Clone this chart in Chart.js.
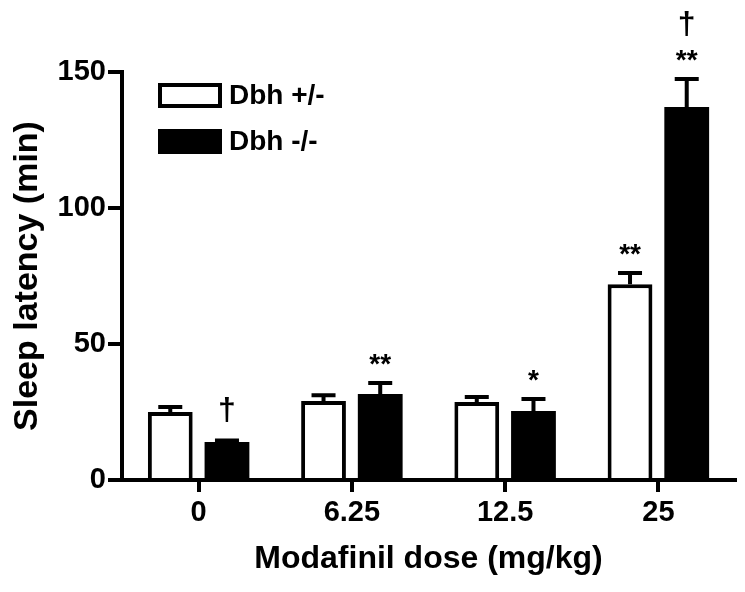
<!DOCTYPE html>
<html>
<head>
<meta charset="utf-8">
<script src="https://cdn.jsdelivr.net/npm/chart.js@4.4.0/dist/chart.umd.min.js"></script>
<style>
  html, body { margin: 0; padding: 0; background: #fff; }
  #wrap { width: 745px; height: 592px; }
</style>
</head>
<body>
<div id="wrap"><canvas id="myChart" width="745" height="592"></canvas></div>
<script>
// doses (x categories)
var doses = ["0", "6.25", "12.5", "25"];
// mean sleep latency (min)
var hetMeans = [25.0, 29.0, 28.7, 72.0];
var hetErr = [1.8, 2.2, 1.8, 4.1];
var koMeans = [14.0, 31.6, 25.4, 137.1];
var koErr = [0.5, 4.1, 4.4, 10.3];
// significance marks, bottom to top
var hetMarks = [[], [], [], ["**"]];
var koMarks = [["†"], ["**"], ["*"], ["**", "†"]];
var yTicks = [0, 50, 100, 150];

var FONT = "'Liberation Sans', Arial, sans-serif";

// error bars + significance marks
var errorBarPlugin = {
    id: "errorBars",
    afterDatasetsDraw: function (chart) {
        var ctx = chart.ctx;
        var y = chart.scales.y;
        var errs = [hetErr, koErr];
        var marks = [hetMarks, koMarks];
        ctx.save();
        chart.data.datasets.forEach(function (ds, di) {
            var meta = chart.getDatasetMeta(di);
            meta.data.forEach(function (bar, i) {
                var x = bar.x;
                var top = y.getPixelForValue(ds.data[i]);
                var cap = y.getPixelForValue(ds.data[i] + errs[di][i]);
                ctx.strokeStyle = "#000";
                ctx.lineWidth = 4;
                ctx.beginPath();
                ctx.moveTo(x, top);
                ctx.lineTo(x, cap);
                ctx.moveTo(x - 12, cap);
                ctx.lineTo(x + 12, cap);
                ctx.stroke();

                // marks
                ctx.fillStyle = "#000";
                ctx.textAlign = "center";
                ctx.textBaseline = "alphabetic";
                var cur = cap - 2;
                var gap = 16;
                marks[di][i].forEach(function (m) {
                    var isStar = m.indexOf("*") >= 0;
                    ctx.font = "bold " + (isStar ? 28 : 32) + "px " + FONT;
                    var mt = ctx.measureText(m);
                    var base = cur - gap - mt.actualBoundingBoxDescent;
                    ctx.fillText(m, x, base);
                    cur = base - mt.actualBoundingBoxAscent;
                    gap = 13;
                });
            });
        });
        ctx.restore();
    }
};

// legend drawn inside the plot area
var legendPlugin = {
    id: "innerLegend",
    afterDraw: function (chart) {
        var ctx = chart.ctx;
        ctx.save();
        chart.data.datasets.forEach(function (ds, di) {
            var bx = 160, by = 85 + di * 46, bw = 60, bh = 21;
            ctx.fillStyle = ds.backgroundColor;
            ctx.fillRect(bx, by, bw, bh);
            ctx.strokeStyle = "#000";
            ctx.lineWidth = 4;
            ctx.strokeRect(bx, by, bw, bh);
            ctx.fillStyle = "#000";
            ctx.font = "bold 28px " + FONT;
            ctx.textAlign = "left";
            ctx.textBaseline = "middle";
            ctx.fillText(ds.label, 229, by + bh / 2 + 1);
        });
        ctx.restore();
    }
};

var ctx = document.getElementById("myChart");
var chart = new Chart(ctx, {
    type: "bar",
    data: {
        labels: doses,
        datasets: [{
            label: "Dbh +/-",
            data: hetMeans,
            backgroundColor: "#ffffff",
            borderColor: "#000000",
            borderWidth: 4,
            borderSkipped: "bottom"
        }, {
            label: "Dbh -/-",
            data: koMeans,
            backgroundColor: "#000000",
            borderColor: "#000000",
            borderWidth: 0
        }]
    },
    options: {
        responsive: false,
        animation: false,
        events: [],
        categoryPercentage: 0.74,
        barPercentage: 0.79,
        layout: { padding: { left: 0, right: 10, top: 72, bottom: 14 } },
        plugins: { legend: { display: false }, tooltip: { enabled: false } },
        scales: {
            x: {
                offset: true,
                grid: { display: true, drawOnChartArea: false, drawTicks: true, tickLength: 12, lineWidth: 4, color: "#000", offset: false },
                border: { display: true, width: 4, color: "#000" },
                ticks: { color: "#000", font: { family: FONT, size: 29, weight: "bold" }, padding: 4 },
                title: { display: true, text: "Modafinil dose (mg/kg)", color: "#000", font: { family: FONT, size: 32, weight: "bold" }, padding: { top: 0, bottom: 0 } },
                afterFit: function (s) { s.height = 98; }
            },
            y: {
                min: 0,
                max: 150,
                afterBuildTicks: function (s) { s.ticks = yTicks.map(function (v) { return { value: v }; }); },
                grid: { display: true, drawOnChartArea: false, drawTicks: true, tickLength: 14, lineWidth: 4, color: "#000" },
                border: { display: true, width: 4, color: "#000" },
                ticks: { color: "#000", font: { family: FONT, size: 29, weight: "bold" }, padding: 2 },
                title: { display: true, text: "Sleep latency (min)", color: "#000", font: { family: FONT, size: 34, weight: "bold" }, padding: { top: 7, bottom: 0 } },
                afterFit: function (s) { s.width = 122; }
            }
        }
    },
    plugins: [errorBarPlugin, legendPlugin]
});
</script>
</body>
</html>
